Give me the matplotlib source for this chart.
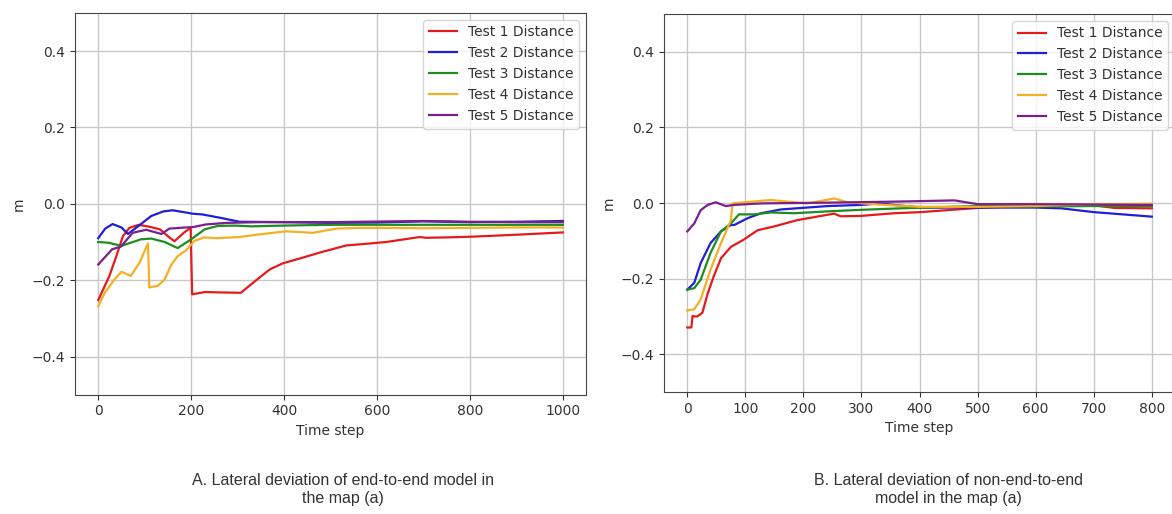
import matplotlib.pyplot as plt

# --- panel A: end-to-end model (time step, lateral deviation in m) ---
a_t1 = [0, 24, 39, 53, 67, 87, 110, 133, 150, 164, 185, 199, 202, 230, 261, 307, 333, 369, 397, 440, 476, 534, 584, 620, 692, 706, 750, 806, 900, 1000]
a_d1 = [-0.252, -0.189, -0.137, -0.085, -0.063, -0.055, -0.060, -0.067, -0.085, -0.098, -0.075, -0.063, -0.237, -0.231, -0.232, -0.233, -0.207, -0.172, -0.156, -0.141, -0.128, -0.109, -0.104, -0.100, -0.087, -0.089, -0.088, -0.086, -0.081, -0.075]

a_t2 = [0, 15, 31, 50, 64, 90, 114, 140, 160, 185, 204, 225, 260, 304, 400, 500, 600, 700, 800, 900, 1000]
a_d2 = [-0.090, -0.065, -0.053, -0.062, -0.079, -0.055, -0.032, -0.020, -0.017, -0.022, -0.026, -0.028, -0.036, -0.047, -0.048, -0.050, -0.049, -0.046, -0.048, -0.047, -0.045]

a_t3 = [0, 22, 50, 70, 92, 114, 143, 171, 200, 229, 257, 293, 330, 400, 500, 600, 700, 800, 900, 1000]
a_d3 = [-0.100, -0.102, -0.110, -0.102, -0.093, -0.091, -0.100, -0.116, -0.093, -0.067, -0.058, -0.057, -0.059, -0.057, -0.055, -0.055, -0.055, -0.055, -0.055, -0.055]

a_t4 = [0, 14, 35, 50, 70, 89, 107, 110, 128, 143, 157, 171, 189, 207, 229, 257, 304, 347, 405, 462, 512, 562, 620, 700, 800, 900, 1000]
a_d4 = [-0.268, -0.233, -0.198, -0.178, -0.189, -0.154, -0.104, -0.219, -0.215, -0.198, -0.160, -0.137, -0.122, -0.097, -0.088, -0.090, -0.087, -0.080, -0.072, -0.076, -0.065, -0.063, -0.063, -0.064, -0.063, -0.062, -0.062]

a_t5 = [0, 30, 49, 74, 103, 136, 153, 175, 204, 232, 276, 350, 500, 700, 800, 900, 1000]
a_d5 = [-0.159, -0.119, -0.112, -0.076, -0.068, -0.079, -0.065, -0.063, -0.061, -0.054, -0.050, -0.048, -0.048, -0.045, -0.047, -0.048, -0.048]

# --- panel B: non-end-to-end model ---
b_t1 = [0, 7, 9, 17, 26, 35, 46, 58, 75, 97, 121, 149, 190, 253, 264, 299, 356, 402, 500, 597, 700, 736, 800]
b_d1 = [-0.329, -0.329, -0.299, -0.300, -0.290, -0.240, -0.192, -0.146, -0.116, -0.097, -0.072, -0.062, -0.045, -0.028, -0.035, -0.034, -0.027, -0.024, -0.013, -0.007, -0.006, -0.013, -0.014]

b_t2 = [0, 12, 23, 40, 58, 75, 81, 104, 127, 161, 242, 299, 333, 356, 402, 500, 600, 644, 700, 800]
b_d2 = [-0.229, -0.211, -0.159, -0.106, -0.075, -0.058, -0.058, -0.040, -0.027, -0.017, -0.008, -0.005, -0.001, -0.005, -0.012, -0.012, -0.012, -0.014, -0.024, -0.036]

b_t3 = [0, 12, 23, 40, 58, 75, 89, 115, 144, 184, 242, 299, 368, 500, 600, 700, 800]
b_d3 = [-0.229, -0.225, -0.203, -0.132, -0.075, -0.054, -0.030, -0.030, -0.025, -0.027, -0.022, -0.018, -0.014, -0.008, -0.009, -0.008, -0.008]

b_t4 = [0, 12, 23, 40, 58, 75, 78, 98, 144, 184, 207, 253, 276, 330, 400, 500, 600, 700, 800]
b_d4 = [-0.284, -0.281, -0.255, -0.176, -0.106, -0.046, -0.001, 0.002, 0.008, 0.002, -0.001, 0.012, 0.002, -0.004, -0.010, -0.010, -0.008, -0.003, -0.002]

b_t5 = [0, 12, 23, 35, 49, 66, 81, 127, 242, 368, 460, 500, 600, 700, 800]
b_d5 = [-0.075, -0.054, -0.019, -0.005, 0.002, -0.008, -0.005, -0.001, 0.001, 0.004, 0.007, -0.003, -0.003, -0.004, -0.005]

labels = ["Test 1 Distance", "Test 2 Distance", "Test 3 Distance", "Test 4 Distance", "Test 5 Distance"]
colors = ["#e41a1c", "#1f1fd6", "#1e8c1e", "#f5b021", "#7b1f8c"]

fig = plt.figure(figsize=(11.72, 5.14), dpi=100)
ax1 = fig.add_axes([0.064, 0.232, 0.436, 0.743])
ax2 = fig.add_axes([0.5666, 0.237, 0.436, 0.736])

panels = [
    (ax1, [(a_t1, a_d1), (a_t2, a_d2), (a_t3, a_d3), (a_t4, a_d4), (a_t5, a_d5)], (-50, 1050)),
    (ax2, [(b_t1, b_d1), (b_t2, b_d2), (b_t3, b_d3), (b_t4, b_d4), (b_t5, b_d5)], (-40, 840)),
]

for ax, series, xl in panels:
    for (t, d), lab, c in zip(series, labels, colors):
        ax.plot(t, d, color=c, lw=1.6, label=lab)
    ax.set_xlim(*xl)
    ax.set_ylim(-0.5, 0.5)
    ax.set_yticks([-0.4, -0.2, 0.0, 0.2, 0.4])
    ax.grid(True, color="#c8c8c8", lw=1.0)
    ax.set_xlabel("Time step", fontsize=10, color="#333333")
    ax.set_ylabel("m", fontsize=10, color="#333333")
    ax.tick_params(labelsize=10, colors="#333333")
    for s in ax.spines.values():
        s.set_color("#444444")
    ax.legend(loc="upper right", fontsize=10, labelcolor="#333333")

ax2.set_xticks([0, 100, 200, 300, 400, 500, 600, 700, 800])

fig.text(0.293, 0.047, "A. Lateral deviation of end-to-end model in\nthe map (a)",
         ha="center", va="center", fontsize=11.5, family="Liberation Sans", color="#333333", linespacing=1.25)
fig.text(0.809, 0.047, "B. Lateral deviation of non-end-to-end\nmodel in the map (a)",
         ha="center", va="center", fontsize=11.5, family="Liberation Sans", color="#333333", linespacing=1.25)

fig.savefig("out.png", dpi=100)
